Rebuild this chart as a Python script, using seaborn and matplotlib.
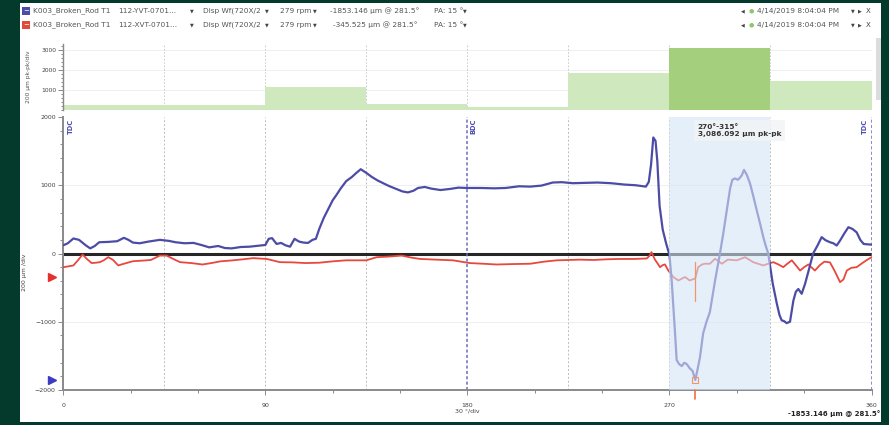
import pandas as pd
import seaborn as sns
import matplotlib.pyplot as plt
from matplotlib.patches import Rectangle
from matplotlib.ticker import MultipleLocator

# 45 degree sector peak-to-peak values (top chart)
sector_mid = [22.5, 67.5, 112.5, 157.5, 202.5, 247.5, 292.5, 337.5]
sector_pkpk = [250, 240, 1150, 320, 160, 1830, 3086, 1450]
sector_sel = ['no', 'no', 'no', 'no', 'no', 'no', 'yes', 'no']

# 112-YVT-0701 waveform (blue)
blue_deg = [0, 2, 4.5, 7, 10, 12, 14, 16, 20, 24, 27, 29, 31, 34, 38, 43, 47, 50, 54, 58,
            62, 65, 69, 72, 75, 79, 83, 87, 90, 91.5, 93, 95, 97, 99, 101, 103, 105, 107, 109,
            111, 112.5, 114, 116, 118, 120, 121.5, 123.5, 126, 128.5, 130.5, 132.5, 135, 137.5,
            140, 142.5, 145, 148, 151, 153.5, 156, 158, 161, 164, 168, 172, 176, 180, 186, 192,
            197, 203, 208, 213, 218, 222, 227, 232, 238, 244, 250, 255, 259.5, 260.8, 261.8,
            262.8, 263.8, 264.6, 265.6, 267, 268.5, 270, 271, 272.5, 273.2, 274.3, 275.5, 276.6,
            277.7, 279, 280.3, 281.5, 282.5, 283.6, 285, 286.5, 288, 290.3, 292.5, 294, 295.5,
            297, 298, 299.2, 300.5, 301.4, 302.3, 303.2, 304.5, 305.9, 307.5, 308.9, 310.5,
            311.8, 313, 314, 316, 317.8, 319, 320, 321, 322.2, 323.7, 325.2, 326.3, 327.4,
            328.9, 330.4, 332, 334, 336, 337.8, 339.5, 341.5, 343, 344.5, 346, 348, 349.7,
            351.5, 353.4, 355, 356.5, 358, 360]
blue_val = [120, 150, 220, 200, 120, 75, 110, 165, 170, 180, 230, 200, 160, 150, 175, 200, 185,
            165, 150, 155, 120, 90, 110, 80, 75, 95, 100, 115, 125, 215, 225, 140, 155, 120, 100,
            215, 175, 160, 155, 200, 215, 360, 520, 650, 780, 850, 950, 1060, 1120, 1180, 1235,
            1180, 1120, 1070, 1030, 990, 950, 910, 895, 920, 960, 975, 950, 930, 945, 965, 960,
            960, 955, 960, 985, 980, 995, 1040, 1045, 1030, 1035, 1040, 1030, 1010, 1000, 980,
            1050, 1300, 1700, 1650, 1350, 700, 350, 150, -20, -400, -1170, -1560, -1620, -1650,
            -1600, -1620, -1680, -1720, -1853, -1700, -1520, -1170, -1000, -860, -400, 0, 300,
            630, 950, 1080, 1100, 1080, 1110, 1150, 1225, 1150, 1025, 820, 630, 420, 240, 100, 0,
            -440, -730, -900, -980, -990, -1020, -1000, -690, -560, -520, -590, -445, -250, 0,
            120, 240, 195, 165, 150, 117, 190, 300, 385, 360, 310, 200, 140, 135, 130]

# 112-XVT-0701 waveform (red)
red_deg = [0, 2, 4.5, 6.5, 8.6, 10.5, 12.6, 14.5, 16.3, 18, 20, 22, 24.5, 27, 31, 35, 39, 43,
           46, 49, 52, 57, 62, 66, 70, 75, 80, 84.6, 90.6, 96.5, 102, 108, 114, 120, 126, 135,
           139.6, 145, 150.7, 155, 159, 166, 173.6, 181, 187, 193, 200, 208, 214, 219.8, 225,
           230, 236, 242, 248, 254, 259.9, 261.2, 262, 263.5, 264.8, 265.8, 267, 268, 269.5,
           271.7, 274, 276, 277, 279, 281.5, 282.8, 284.5, 285.8, 288, 290.3, 291.8, 293.3, 296,
           300, 303.7, 305.5, 307.3, 311.8, 314, 316.3, 318.5, 320.7, 322.5, 324.5, 326.5,
           328.2, 330, 331.9, 333.5, 334.8, 337, 339, 341.5, 343.5, 346, 347.5, 349, 351, 353.4,
           355.5, 357.7, 360]
red_val = [-200, -190, -175, -100, -15, -80, -140, -135, -127, -100, -54, -90, -175, -150, -113,
           -105, -95, -30, -30, -80, -127, -140, -161, -140, -115, -102, -85, -68, -80, -127,
           -130, -140, -135, -115, -100, -100, -54, -45, -30, -60, -80, -90, -100, -140, -150,
           -161, -155, -150, -120, -100, -95, -90, -95, -85, -80, -80, -73, -30, 20, -88, -150,
           -200, -170, -160, -250, -345, -395, -360, -345, -395, -365, -200, -160, -150, -150,
           -78, -110, -150, -90, -100, -54, -90, -127, -175, -150, -127, -160, -200, -150, -100,
           -180, -250, -200, -160, -210, -250, -170, -120, -130, -250, -420, -380, -250, -210,
           -200, -150, -100, -55]

cursor_deg = 281.5
blue_cursor = -1853.146
red_cursor = -345.525

W, H = 889, 425
BLUE = '#4c4ca6'
RED = '#e8473c'
GREY_TXT = '#555555'

sns.set_theme(style="white")
plt.rcParams['font.family'] = ['DejaVu Sans']

fig = plt.figure(figsize=(W / 100, H / 100), dpi=100)
fig.patch.set_facecolor('#043a2b')
fig.add_artist(Rectangle((20 / W, 3 / H), 861 / W, 419 / H, transform=fig.transFigure,
                         facecolor='white', edgecolor='none', zorder=-2))
# scrollbar
fig.add_artist(Rectangle((876 / W, (H - 100) / H), 5 / W, 62 / H, transform=fig.transFigure,
                         facecolor='#dcdcdc', edgecolor='none', zorder=-1))


def fx(px):
    return px / W


def fy(py):
    return 1 - py / H


# header rows
rows = [(11, BLUE, 'YVT', '-1853.146 µm @ 281.5°'), (25, '#e04a3a', 'XVT', '-345.525 µm @ 281.5°')]
for py, col, tag, val in rows:
    fig.add_artist(Rectangle((fx(22), fy(py + 4)), 8 / W, 8 / H, transform=fig.transFigure,
                             facecolor=col, edgecolor='none'))
    fig.text(fx(26), fy(py), '−', color='white', fontsize=5, ha='center', va='center')
    kw = dict(fontsize=5.3, color=GREY_TXT, va='center')
    fig.text(fx(33), fy(py), 'K003_Broken_Rod T1', **kw)
    fig.text(fx(118), fy(py), f'112-{tag}-0701...', **kw)
    fig.text(fx(190), fy(py), '▼', fontsize=3.5, color='#444', va='center')
    fig.text(fx(203), fy(py), 'Disp Wf(720X/2', **kw)
    fig.text(fx(265), fy(py), '▼', fontsize=3.5, color='#444', va='center')
    fig.text(fx(280), fy(py), '279 rpm', **kw)
    fig.text(fx(313), fy(py), '▼', fontsize=3.5, color='#444', va='center')
    fig.text(fx(330 if tag == 'YVT' else 333), fy(py), val, **kw)
    fig.text(fx(434), fy(py), 'PA: 15 °', **kw)
    fig.text(fx(463), fy(py), '▼', fontsize=3.5, color='#444', va='center')
    fig.text(fx(741), fy(py), '◀', fontsize=3.5, color='#444', va='center')
    fig.text(fx(749), fy(py), '●', fontsize=4.5, color='#8cc870', va='center')
    fig.text(fx(757), fy(py), '4/14/2019 8:04:04 PM', **kw)
    fig.text(fx(851), fy(py), '▼', fontsize=3.5, color='#444', va='center')
    fig.text(fx(858), fy(py), '▶', fontsize=3.5, color='#444', va='center')
    fig.text(fx(866), fy(py), 'X', fontsize=5, color='#444', va='center')

x0, x1 = 63.3, 871.5
ax_top = fig.add_axes([fx(x0), fy(110), (x1 - x0) / W, 66 / H])
ax = fig.add_axes([fx(x0), fy(390), (x1 - x0) / W, 273 / H])

# --- top sector bar chart
bars_df = pd.DataFrame({'deg': sector_mid, 'pkpk': sector_pkpk, 'sel': sector_sel})
sns.barplot(data=bars_df, x='deg', y='pkpk', hue='sel', palette={'no': '#d0e8be', 'yes': '#a4d07e'},
            native_scale=True, width=1, dodge=False, saturation=1, legend=False, linewidth=0,
            ax=ax_top)
ax_top.set_xlim(0, 360)
ax_top.set_ylim(0, 3300)
ax_top.set_xlabel('')
ax_top.set_ylabel('200 µm pk-pk/div', fontsize=4.3, color=GREY_TXT, labelpad=3)
ax_top.yaxis.set_label_coords(-0.04, 0.5)
ax_top.set_xticks([])
ax_top.yaxis.set_major_locator(MultipleLocator(1000))
ax_top.yaxis.set_minor_locator(MultipleLocator(200))
ax_top.set_yticks([1000, 2000, 3000])
ax_top.tick_params(axis='y', which='both', left=True, direction='out', color='#777',
                   labelsize=4.3, labelcolor='#444', width=0.6, pad=1.5)
ax_top.tick_params(axis='y', which='major', length=3.5)
ax_top.tick_params(axis='y', which='minor', length=1.8)
for s in ['top', 'right', 'bottom']:
    ax_top.spines[s].set_visible(False)
ax_top.spines['left'].set_color('#888')
ax_top.spines['left'].set_linewidth(1)
for yv in [1000, 2000, 3000]:
    ax_top.axhline(yv, color='#ececec', lw=0.6, zorder=0)
for xv in [45, 90, 135, 180, 225, 270, 315]:
    ax_top.axvline(xv, color='#c4c4c4', lw=0.6, ls=(0, (2, 2)), zorder=0)
for p in ax_top.patches:
    p.set_zorder(2)

# --- main waveform chart
ax.set_xlim(0, 360)
ax.set_ylim(-2000, 2000)
for yv in [1000, -1000]:
    ax.axhline(yv, color='#ececec', lw=0.6, zorder=0)
for xv in [45, 90, 135, 225, 270, 315]:
    ax.axvline(xv, color='#bcbcbc', lw=0.7, ls=(0, (2, 2)), zorder=1)
for xv in [0, 180, 360]:
    ax.axvline(xv, color='#6a6ac0', lw=1.1, ls=(0, (2, 1.5)), zorder=2.5)
ax.axhline(0, color='#262626', lw=2.2, zorder=2)

sns.lineplot(x=red_deg, y=red_val, color=RED, lw=1.3, estimator=None, sort=False, ax=ax, zorder=3)
sns.lineplot(x=blue_deg, y=blue_val, color=BLUE, lw=1.6, estimator=None, sort=False, ax=ax, zorder=3.1)

ax.axvspan(270, 315, color='#d5e5f6', alpha=0.6, lw=0, zorder=4)

# cursor
ax.plot([cursor_deg, cursor_deg], [-120, -700], color='#f0956a', lw=0.9, zorder=5)
ax.plot([cursor_deg, cursor_deg], [-2000, -2130], color='#f07040', lw=1.2, zorder=5, clip_on=False)
ax.plot([cursor_deg], [blue_cursor], marker='s', ms=4, mfc='none', mec='#f0956a', mew=0.8, zorder=5)
ax.plot([-5.2], [red_cursor], marker='>', ms=6, color='#e8302a', clip_on=False, zorder=6)
ax.plot([-5.2], [blue_cursor], marker='>', ms=6, color='#3c3cc0', clip_on=False, zorder=6)

ax.text(282.6, 1900, '270°-315°\n3,086.092 µm pk-pk', fontsize=5.3, fontweight='bold',
        color='#333', va='top', ha='left', linespacing=1.25, zorder=6,
        bbox=dict(boxstyle='square,pad=0.5', facecolor='#f2f4f6', edgecolor='none', alpha=0.85))
for xv, lab, ha in [(2.2, 'TDC', 'left'), (181.5, 'BDC', 'left'), (358.5, 'TDC', 'right')]:
    ax.text(xv, 1970, lab, rotation=90, fontsize=4.8, fontweight='bold', color='#4a4ab0',
            ha=ha, va='top', zorder=6)

ax.xaxis.set_major_locator(MultipleLocator(90))
ax.xaxis.set_minor_locator(MultipleLocator(30))
ax.yaxis.set_major_locator(MultipleLocator(1000))
ax.yaxis.set_minor_locator(MultipleLocator(200))
ax.tick_params(which='both', direction='out', color='#777', width=0.6, labelsize=4.5,
               labelcolor='#444', bottom=True, left=True, pad=2)
ax.tick_params(which='major', length=3.5)
ax.tick_params(which='minor', length=2)
ax.tick_params(axis='x', pad=6)
for s in ['top', 'right']:
    ax.spines[s].set_visible(False)
for s in ['left', 'bottom']:
    ax.spines[s].set_color('#8a8a8a')
    ax.spines[s].set_linewidth(1.4)
ax.set_xlabel('30 °/div', fontsize=4.5, color='#444', labelpad=0)
ax.set_ylabel('200 µm /div', fontsize=4.5, color='#444')
ax.yaxis.set_label_coords(-0.045, 0.43)

fig.text(fx(880), fy(414), '-1853.146 µm @ 281.5°', fontsize=5, fontweight='bold',
         color='#222', ha='right', va='center')

fig.savefig('out.png', dpi=100, facecolor=fig.get_facecolor())
